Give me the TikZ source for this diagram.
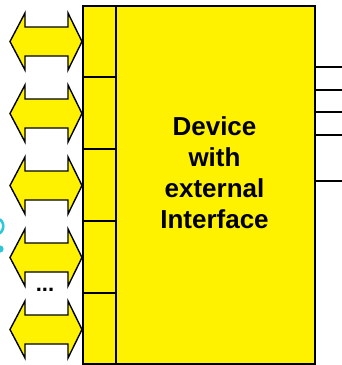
\documentclass[tikz,border=0pt]{standalone}
\usepackage{fontspec}
\setmainfont{Liberation Sans}
\definecolor{cyanmark}{RGB}{45,200,215}
\begin{document}
\begin{tikzpicture}[x=1pt,y=-1pt]
\useasboundingbox (0,0) rectangle (342,365);
\tikzset{
  boxline/.style={draw=black, line width=1.6pt, fill=yellow, inner sep=0pt},
  arrowshape/.style={draw=black, line width=1.4pt, fill=yellow, line join=miter},
  wire/.style={line width=1.3pt, black},
  divider/.style={line width=1.6pt, black},
  labeltext/.style={font=\bfseries\fontsize{26}{31}\selectfont, align=center, inner sep=0pt},
}
% cyan fragment at the left edge
\begin{scope}
\clip (0,0) rectangle (342,365);
\draw[cyanmark, line width=2.6pt] (-2,219) .. controls (5,220) and (5,232) .. (-2,234);
\fill[cyanmark] (0,249) circle (3.6);
\end{scope}
% double arrows
\foreach \i in {0,...,4}{
  \pgfmathsetmacro{\cy}{41.5+72*\i}
  \draw[arrowshape] (10,\cy) -- (25,\cy-28.5) -- (25,\cy-14.5) -- (68,\cy-14.5) -- (68,\cy-28.5)
    -- (82,\cy) -- (68,\cy+28.5) -- (68,\cy+14.5) -- (25,\cy+14.5) -- (25,\cy+28.5) -- cycle;
}
% device body
\node[boxline, minimum width=199pt, minimum height=358pt, anchor=north west] (dev) at (115,5) {};
\node[boxline, minimum width=33pt, minimum height=358pt, anchor=north west] (strip) at (82,5) {};
\foreach \y in {77,149,221,293}{
  \coordinate (d\y) at (82,\y);
  \draw[divider] (d\y) -- (dev.west |- d\y);
}
\node[labeltext, anchor=north] (label) at (214.5,116) {Device\\with\\external\\Interface};
\node[font=\bfseries\fontsize{22}{22}\selectfont, inner sep=0pt] (dots) at (45,290) {...};
% output wires
\foreach \y in {67,90,112,135,181}{
  \coordinate (w\y) at (342,\y);
  \draw[wire] (dev.east |- w\y) -- (w\y);
}
\end{tikzpicture}
\end{document}
